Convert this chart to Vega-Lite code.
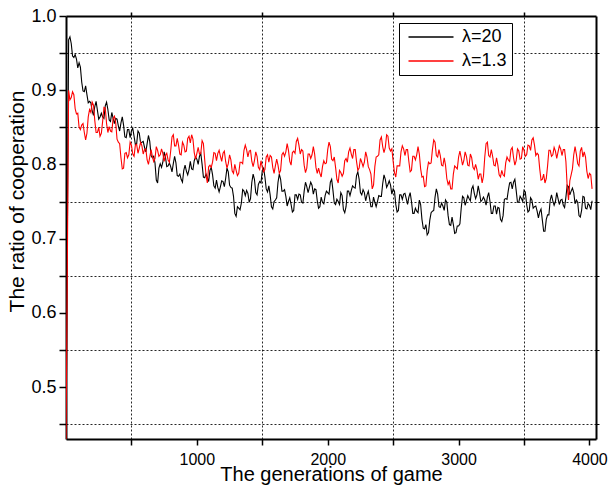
{
"$schema":"https://vega.github.io/schema/vega-lite/v6.json",
"width":530,"height":423,
"autosize":{"type":"none"},
"padding":{"left":66,"top":16,"right":13,"bottom":47},
"background":"white",
"config":{"view":{"stroke":null},"font":"Liberation Sans","axis":{"domainColor":"#000","tickColor":"#000","labelColor":"#000","titleColor":"#000","titleFontWeight":"normal"}},
"data":{"values":[
{"g":0,"k":0.420,"r":0.420},{"g":20,"k":0.968,"r":0.900},{"g":30,"k":0.972,"r":0.887},{"g":40,"k":0.963,"r":0.890},{"g":50,"k":0.946,"r":0.898},{"g":60,"k":0.944,"r":0.894},{"g":70,"k":0.948,"r":0.875},{"g":80,"k":0.942,"r":0.868},{"g":90,"k":0.930,"r":0.869},{"g":100,"k":0.937,"r":0.850},{"g":110,"k":0.931,"r":0.847},{"g":120,"k":0.911,"r":0.853},{"g":130,"k":0.899,"r":0.855},{"g":140,"k":0.898,"r":0.843},{"g":150,"k":0.906,"r":0.833},{"g":160,"k":0.894,"r":0.842},{"g":170,"k":0.883,"r":0.864},{"g":180,"k":0.885,"r":0.874},{"g":190,"k":0.883,"r":0.870},{"g":200,"k":0.872,"r":0.884},{"g":210,"k":0.866,"r":0.880},{"g":220,"k":0.878,"r":0.859},{"g":230,"k":0.885,"r":0.843},{"g":240,"k":0.873,"r":0.843},{"g":250,"k":0.861,"r":0.850},{"g":260,"k":0.864,"r":0.838},{"g":270,"k":0.869,"r":0.842},{"g":280,"k":0.864,"r":0.858},{"g":290,"k":0.862,"r":0.877},{"g":300,"k":0.879,"r":0.876},{"g":310,"k":0.884,"r":0.855},{"g":320,"k":0.874,"r":0.843},{"g":330,"k":0.860,"r":0.851},{"g":340,"k":0.858,"r":0.845},{"g":350,"k":0.870,"r":0.844},{"g":360,"k":0.862,"r":0.862},{"g":370,"k":0.855,"r":0.865},{"g":380,"k":0.862,"r":0.856},{"g":390,"k":0.861,"r":0.834},{"g":400,"k":0.852,"r":0.830},{"g":410,"k":0.845,"r":0.828},{"g":420,"k":0.856,"r":0.809},{"g":430,"k":0.864,"r":0.794},{"g":440,"k":0.853,"r":0.795},{"g":450,"k":0.837,"r":0.815},{"g":460,"k":0.836,"r":0.816},{"g":470,"k":0.847,"r":0.809},{"g":480,"k":0.847,"r":0.813},{"g":490,"k":0.836,"r":0.830},{"g":500,"k":0.845,"r":0.826},{"g":510,"k":0.849,"r":0.814},{"g":520,"k":0.838,"r":0.811},{"g":530,"k":0.827,"r":0.826},{"g":540,"k":0.828,"r":0.827},{"g":550,"k":0.845,"r":0.815},{"g":560,"k":0.842,"r":0.822},{"g":570,"k":0.829,"r":0.830},{"g":580,"k":0.830,"r":0.825},{"g":590,"k":0.831,"r":0.814},{"g":600,"k":0.823,"r":0.820},{"g":610,"k":0.817,"r":0.821},{"g":620,"k":0.828,"r":0.806},{"g":630,"k":0.839,"r":0.800},{"g":640,"k":0.831,"r":0.810},{"g":650,"k":0.812,"r":0.820},{"g":660,"k":0.809,"r":0.811},{"g":670,"k":0.811,"r":0.804},{"g":680,"k":0.802,"r":0.808},{"g":690,"k":0.779,"r":0.824},{"g":700,"k":0.775,"r":0.819},{"g":710,"k":0.795,"r":0.811},{"g":720,"k":0.801,"r":0.813},{"g":730,"k":0.796,"r":0.821},{"g":740,"k":0.803,"r":0.815},{"g":750,"k":0.817,"r":0.804},{"g":760,"k":0.810,"r":0.812},{"g":770,"k":0.797,"r":0.815},{"g":780,"k":0.798,"r":0.806},{"g":790,"k":0.802,"r":0.803},{"g":800,"k":0.797,"r":0.818},{"g":810,"k":0.790,"r":0.837},{"g":820,"k":0.801,"r":0.840},{"g":830,"k":0.811,"r":0.825},{"g":840,"k":0.802,"r":0.825},{"g":850,"k":0.785,"r":0.835},{"g":860,"k":0.784,"r":0.826},{"g":870,"k":0.787,"r":0.814},{"g":880,"k":0.780,"r":0.813},{"g":890,"k":0.776,"r":0.830},{"g":900,"k":0.792,"r":0.826},{"g":910,"k":0.799,"r":0.817},{"g":920,"k":0.791,"r":0.818},{"g":930,"k":0.786,"r":0.835},{"g":940,"k":0.793,"r":0.838},{"g":950,"k":0.804,"r":0.829},{"g":960,"k":0.794,"r":0.840},{"g":970,"k":0.793,"r":0.834},{"g":980,"k":0.805,"r":0.816},{"g":990,"k":0.810,"r":0.807},{"g":1000,"k":0.807,"r":0.815},{"g":1010,"k":0.800,"r":0.823},{"g":1020,"k":0.811,"r":0.814},{"g":1030,"k":0.815,"r":0.815},{"g":1040,"k":0.800,"r":0.832},{"g":1050,"k":0.783,"r":0.828},{"g":1060,"k":0.782,"r":0.806},{"g":1070,"k":0.787,"r":0.785},{"g":1080,"k":0.782,"r":0.775},{"g":1090,"k":0.777,"r":0.797},{"g":1100,"k":0.792,"r":0.799},{"g":1110,"k":0.796,"r":0.796},{"g":1120,"k":0.786,"r":0.803},{"g":1130,"k":0.771,"r":0.816},{"g":1140,"k":0.768,"r":0.815},{"g":1150,"k":0.779,"r":0.805},{"g":1160,"k":0.769,"r":0.815},{"g":1170,"k":0.763,"r":0.819},{"g":1180,"k":0.770,"r":0.811},{"g":1190,"k":0.778,"r":0.804},{"g":1200,"k":0.777,"r":0.815},{"g":1210,"k":0.770,"r":0.818},{"g":1220,"k":0.781,"r":0.804},{"g":1230,"k":0.795,"r":0.795},{"g":1240,"k":0.790,"r":0.801},{"g":1250,"k":0.772,"r":0.813},{"g":1260,"k":0.769,"r":0.806},{"g":1270,"k":0.768,"r":0.791},{"g":1280,"k":0.757,"r":0.788},{"g":1290,"k":0.734,"r":0.800},{"g":1300,"k":0.730,"r":0.792},{"g":1310,"k":0.743,"r":0.785},{"g":1320,"k":0.741,"r":0.788},{"g":1330,"k":0.739,"r":0.803},{"g":1340,"k":0.748,"r":0.803},{"g":1350,"k":0.766,"r":0.801},{"g":1360,"k":0.764,"r":0.819},{"g":1370,"k":0.758,"r":0.826},{"g":1380,"k":0.765,"r":0.820},{"g":1390,"k":0.761,"r":0.810},{"g":1400,"k":0.749,"r":0.818},{"g":1410,"k":0.754,"r":0.819},{"g":1420,"k":0.776,"r":0.804},{"g":1430,"k":0.787,"r":0.797},{"g":1440,"k":0.780,"r":0.805},{"g":1450,"k":0.762,"r":0.817},{"g":1460,"k":0.759,"r":0.811},{"g":1470,"k":0.773,"r":0.796},{"g":1480,"k":0.777,"r":0.793},{"g":1490,"k":0.775,"r":0.805},{"g":1500,"k":0.792,"r":0.796},{"g":1510,"k":0.795,"r":0.790},{"g":1520,"k":0.783,"r":0.793},{"g":1530,"k":0.767,"r":0.810},{"g":1540,"k":0.763,"r":0.813},{"g":1550,"k":0.771,"r":0.803},{"g":1560,"k":0.759,"r":0.812},{"g":1570,"k":0.743,"r":0.810},{"g":1580,"k":0.740,"r":0.796},{"g":1590,"k":0.750,"r":0.788},{"g":1600,"k":0.752,"r":0.798},{"g":1610,"k":0.755,"r":0.807},{"g":1620,"k":0.776,"r":0.799},{"g":1630,"k":0.787,"r":0.788},{"g":1640,"k":0.780,"r":0.792},{"g":1650,"k":0.764,"r":0.813},{"g":1660,"k":0.764,"r":0.816},{"g":1670,"k":0.766,"r":0.811},{"g":1680,"k":0.757,"r":0.817},{"g":1690,"k":0.744,"r":0.828},{"g":1700,"k":0.750,"r":0.819},{"g":1710,"k":0.755,"r":0.804},{"g":1720,"k":0.746,"r":0.799},{"g":1730,"k":0.736,"r":0.816},{"g":1740,"k":0.738,"r":0.818},{"g":1750,"k":0.759,"r":0.815},{"g":1760,"k":0.759,"r":0.831},{"g":1770,"k":0.753,"r":0.835},{"g":1780,"k":0.760,"r":0.826},{"g":1790,"k":0.759,"r":0.814},{"g":1800,"k":0.749,"r":0.820},{"g":1810,"k":0.748,"r":0.818},{"g":1820,"k":0.764,"r":0.799},{"g":1830,"k":0.776,"r":0.789},{"g":1840,"k":0.770,"r":0.795},{"g":1850,"k":0.762,"r":0.814},{"g":1860,"k":0.769,"r":0.814},{"g":1870,"k":0.776,"r":0.808},{"g":1880,"k":0.772,"r":0.813},{"g":1890,"k":0.760,"r":0.824},{"g":1900,"k":0.767,"r":0.814},{"g":1910,"k":0.766,"r":0.796},{"g":1920,"k":0.751,"r":0.788},{"g":1930,"k":0.741,"r":0.795},{"g":1940,"k":0.743,"r":0.788},{"g":1950,"k":0.756,"r":0.783},{"g":1960,"k":0.749,"r":0.797},{"g":1970,"k":0.747,"r":0.805},{"g":1980,"k":0.758,"r":0.801},{"g":1990,"k":0.764,"r":0.802},{"g":2000,"k":0.762,"r":0.820},{"g":2010,"k":0.760,"r":0.830},{"g":2020,"k":0.776,"r":0.824},{"g":2030,"k":0.780,"r":0.807},{"g":2040,"k":0.765,"r":0.805},{"g":2050,"k":0.748,"r":0.810},{"g":2060,"k":0.746,"r":0.796},{"g":2070,"k":0.753,"r":0.780},{"g":2080,"k":0.750,"r":0.775},{"g":2090,"k":0.746,"r":0.792},{"g":2100,"k":0.762,"r":0.789},{"g":2110,"k":0.758,"r":0.784},{"g":2120,"k":0.739,"r":0.788},{"g":2130,"k":0.735,"r":0.805},{"g":2140,"k":0.743,"r":0.808},{"g":2150,"k":0.764,"r":0.803},{"g":2160,"k":0.764,"r":0.817},{"g":2170,"k":0.758,"r":0.822},{"g":2180,"k":0.765,"r":0.814},{"g":2190,"k":0.771,"r":0.808},{"g":2200,"k":0.769,"r":0.820},{"g":2210,"k":0.768,"r":0.820},{"g":2220,"k":0.785,"r":0.804},{"g":2230,"k":0.790,"r":0.792},{"g":2240,"k":0.780,"r":0.795},{"g":2250,"k":0.762,"r":0.808},{"g":2260,"k":0.759,"r":0.803},{"g":2270,"k":0.766,"r":0.797},{"g":2280,"k":0.762,"r":0.803},{"g":2290,"k":0.751,"r":0.817},{"g":2300,"k":0.759,"r":0.810},{"g":2310,"k":0.764,"r":0.797},{"g":2320,"k":0.754,"r":0.793},{"g":2330,"k":0.743,"r":0.787},{"g":2340,"k":0.743,"r":0.767},{"g":2350,"k":0.756,"r":0.772},{"g":2360,"k":0.749,"r":0.797},{"g":2370,"k":0.743,"r":0.810},{"g":2380,"k":0.750,"r":0.811},{"g":2390,"k":0.758,"r":0.813},{"g":2400,"k":0.757,"r":0.833},{"g":2410,"k":0.757,"r":0.837},{"g":2420,"k":0.774,"r":0.824},{"g":2430,"k":0.786,"r":0.816},{"g":2440,"k":0.780,"r":0.823},{"g":2450,"k":0.769,"r":0.840},{"g":2460,"k":0.773,"r":0.838},{"g":2470,"k":0.778,"r":0.822},{"g":2480,"k":0.772,"r":0.818},{"g":2490,"k":0.760,"r":0.821},{"g":2500,"k":0.767,"r":0.804},{"g":2510,"k":0.764,"r":0.789},{"g":2520,"k":0.746,"r":0.783},{"g":2530,"k":0.736,"r":0.798},{"g":2540,"k":0.738,"r":0.798},{"g":2550,"k":0.759,"r":0.798},{"g":2560,"k":0.759,"r":0.817},{"g":2570,"k":0.753,"r":0.825},{"g":2580,"k":0.760,"r":0.821},{"g":2590,"k":0.761,"r":0.812},{"g":2600,"k":0.754,"r":0.820},{"g":2610,"k":0.746,"r":0.820},{"g":2620,"k":0.756,"r":0.804},{"g":2630,"k":0.762,"r":0.790},{"g":2640,"k":0.750,"r":0.792},{"g":2650,"k":0.734,"r":0.811},{"g":2660,"k":0.734,"r":0.811},{"g":2670,"k":0.741,"r":0.806},{"g":2680,"k":0.737,"r":0.813},{"g":2690,"k":0.735,"r":0.824},{"g":2700,"k":0.752,"r":0.814},{"g":2710,"k":0.746,"r":0.794},{"g":2720,"k":0.726,"r":0.783},{"g":2730,"k":0.714,"r":0.784},{"g":2740,"k":0.713,"r":0.770},{"g":2750,"k":0.719,"r":0.771},{"g":2760,"k":0.705,"r":0.792},{"g":2770,"k":0.708,"r":0.803},{"g":2780,"k":0.725,"r":0.801},{"g":2790,"k":0.735,"r":0.802},{"g":2800,"k":0.737,"r":0.820},{"g":2810,"k":0.738,"r":0.833},{"g":2820,"k":0.756,"r":0.830},{"g":2830,"k":0.767,"r":0.812},{"g":2840,"k":0.760,"r":0.810},{"g":2850,"k":0.743,"r":0.820},{"g":2860,"k":0.742,"r":0.812},{"g":2870,"k":0.748,"r":0.799},{"g":2880,"k":0.744,"r":0.798},{"g":2890,"k":0.738,"r":0.809},{"g":2900,"k":0.752,"r":0.799},{"g":2910,"k":0.749,"r":0.781},{"g":2920,"k":0.731,"r":0.773},{"g":2930,"k":0.719,"r":0.777},{"g":2940,"k":0.718,"r":0.767},{"g":2950,"k":0.729,"r":0.767},{"g":2960,"k":0.719,"r":0.787},{"g":2970,"k":0.707,"r":0.798},{"g":2980,"k":0.708,"r":0.796},{"g":2990,"k":0.717,"r":0.794},{"g":3000,"k":0.717,"r":0.810},{"g":3010,"k":0.720,"r":0.818},{"g":3020,"k":0.741,"r":0.809},{"g":3030,"k":0.757,"r":0.799},{"g":3040,"k":0.755,"r":0.805},{"g":3050,"k":0.745,"r":0.817},{"g":3060,"k":0.751,"r":0.811},{"g":3070,"k":0.758,"r":0.799},{"g":3080,"k":0.754,"r":0.798},{"g":3090,"k":0.751,"r":0.814},{"g":3100,"k":0.767,"r":0.809},{"g":3110,"k":0.771,"r":0.796},{"g":3120,"k":0.761,"r":0.793},{"g":3130,"k":0.754,"r":0.800},{"g":3140,"k":0.759,"r":0.793},{"g":3150,"k":0.771,"r":0.780},{"g":3160,"k":0.762,"r":0.787},{"g":3170,"k":0.750,"r":0.787},{"g":3180,"k":0.752,"r":0.775},{"g":3190,"k":0.756,"r":0.784},{"g":3200,"k":0.752,"r":0.810},{"g":3210,"k":0.745,"r":0.828},{"g":3220,"k":0.756,"r":0.830},{"g":3230,"k":0.762,"r":0.812},{"g":3240,"k":0.750,"r":0.810},{"g":3250,"k":0.734,"r":0.820},{"g":3260,"k":0.734,"r":0.811},{"g":3270,"k":0.744,"r":0.799},{"g":3280,"k":0.744,"r":0.798},{"g":3290,"k":0.733,"r":0.809},{"g":3300,"k":0.742,"r":0.799},{"g":3310,"k":0.741,"r":0.786},{"g":3320,"k":0.726,"r":0.783},{"g":3330,"k":0.723,"r":0.792},{"g":3340,"k":0.731,"r":0.786},{"g":3350,"k":0.753,"r":0.784},{"g":3360,"k":0.754,"r":0.802},{"g":3370,"k":0.753,"r":0.810},{"g":3380,"k":0.765,"r":0.806},{"g":3390,"k":0.775,"r":0.804},{"g":3400,"k":0.776,"r":0.820},{"g":3410,"k":0.767,"r":0.823},{"g":3420,"k":0.776,"r":0.809},{"g":3430,"k":0.780,"r":0.799},{"g":3440,"k":0.765,"r":0.805},{"g":3450,"k":0.749,"r":0.821},{"g":3460,"k":0.749,"r":0.818},{"g":3470,"k":0.757,"r":0.807},{"g":3480,"k":0.754,"r":0.808},{"g":3490,"k":0.750,"r":0.824},{"g":3500,"k":0.765,"r":0.819},{"g":3510,"k":0.763,"r":0.811},{"g":3520,"k":0.746,"r":0.813},{"g":3530,"k":0.736,"r":0.826},{"g":3540,"k":0.738,"r":0.825},{"g":3550,"k":0.755,"r":0.819},{"g":3560,"k":0.752,"r":0.833},{"g":3570,"k":0.741,"r":0.836},{"g":3580,"k":0.743,"r":0.826},{"g":3590,"k":0.744,"r":0.812},{"g":3600,"k":0.737,"r":0.815},{"g":3610,"k":0.728,"r":0.813},{"g":3620,"k":0.736,"r":0.794},{"g":3630,"k":0.740,"r":0.779},{"g":3640,"k":0.725,"r":0.780},{"g":3650,"k":0.710,"r":0.787},{"g":3660,"k":0.710,"r":0.775},{"g":3670,"k":0.726,"r":0.781},{"g":3680,"k":0.732,"r":0.798},{"g":3690,"k":0.732,"r":0.819},{"g":3700,"k":0.752,"r":0.819},{"g":3710,"k":0.759,"r":0.811},{"g":3720,"k":0.751,"r":0.813},{"g":3730,"k":0.745,"r":0.823},{"g":3740,"k":0.750,"r":0.818},{"g":3750,"k":0.762,"r":0.808},{"g":3760,"k":0.754,"r":0.817},{"g":3770,"k":0.746,"r":0.825},{"g":3780,"k":0.752,"r":0.821},{"g":3790,"k":0.753,"r":0.812},{"g":3800,"k":0.745,"r":0.820},{"g":3810,"k":0.742,"r":0.820},{"g":3820,"k":0.756,"r":0.804},{"g":3830,"k":0.772,"r":0.770},{"g":3840,"k":0.770,"r":0.752},{"g":3850,"k":0.759,"r":0.778},{"g":3860,"k":0.764,"r":0.786},{"g":3870,"k":0.768,"r":0.794},{"g":3880,"k":0.762,"r":0.813},{"g":3890,"k":0.747,"r":0.824},{"g":3900,"k":0.752,"r":0.814},{"g":3910,"k":0.749,"r":0.801},{"g":3920,"k":0.731,"r":0.798},{"g":3930,"k":0.729,"r":0.818},{"g":3940,"k":0.738,"r":0.823},{"g":3950,"k":0.757,"r":0.810},{"g":3960,"k":0.756,"r":0.817},{"g":3970,"k":0.741,"r":0.810},{"g":3980,"k":0.740,"r":0.791},{"g":3990,"k":0.747,"r":0.781},{"g":4000,"k":0.745,"r":0.788},{"g":4010,"k":0.739,"r":0.786},{"g":4020,"k":0.751,"r":0.767}
]},
"layer":[
{"mark":{"type":"line","strokeWidth":1.1,"clip":true},
 "encoding":{
  "x":{"field":"g","type":"quantitative","scale":{"domain":[0,4050],"nice":false,"zero":false},
   "axis":{"orient":"bottom","values":[500,1000,1500,2000,2500,3000,3500,4000],"format":"d","labelExpr":"datum.value%1000==0 ? datum.label : ''","grid":false,"domainWidth":2,"tickWidth":1.5,"tickSize":6,"labelFontSize":16,"labelPadding":6,"labelFlush":false,"title":"The generations of game","titleFontSize":20,"titleY":41,"titleBaseline":"alphabetic"}},
  "y":{"field":"k","type":"quantitative","scale":{"domain":[0.43,1.0],"nice":false,"zero":false},
   "axis":{"orient":"left","values":[0.45,0.5,0.55,0.6,0.65,0.7,0.75,0.8,0.85,0.9,0.95,1.0],"format":".1f","labelExpr":"round(datum.value*100)%10==0 ? datum.label : ''","grid":false,"domainWidth":2,"tickWidth":1.5,"tickSize":7,"labelFontSize":18,"labelPadding":3,"labelFlush":false,"title":"The ratio of cooperation","titleFontSize":21,"titleX":-43,"titleY":185,"titleBaseline":"alphabetic","titleAngle":270}},
  "color":{"datum":"A","type":"nominal","scale":{"domain":["A","B"],"range":["#000000","#ff0000"]},
   "legend":{"orient":"none","legendX":333,"legendY":7,"title":null,"labelExpr":"datum.value=='A' ? 'λ=20' : 'λ=1.3'","strokeColor":"#000","fillColor":"#fff","padding":5,"symbolType":"M-5,0H5","symbolSize":81,"symbolOffset":18,"labelOffset":22,"labelFontSize":18,"labelColor":"#000","rowPadding":6}}
 }},
{"mark":{"type":"line","strokeWidth":1.1,"clip":true},
 "encoding":{
  "x":{"field":"g","type":"quantitative","scale":{"domain":[0,4050],"nice":false,"zero":false},
   "axis":{"orient":"top","values":[500,1500,2500,3500],"labels":false,"title":null,"domainWidth":2,"tickWidth":1.5,"tickSize":4,"grid":true,"gridColor":"#000","gridDash":[2,2],"gridWidth":1,"gridOpacity":0.85}},
  "y":{"field":"r","type":"quantitative","scale":{"domain":[0.43,1.0],"nice":false,"zero":false},
   "axis":{"orient":"right","values":[0.45,0.55,0.65,0.75,0.85,0.95],"labels":false,"title":null,"domainWidth":2,"tickWidth":1,"tickSize":3,"grid":true,"gridColor":"#000","gridDash":[2,2],"gridWidth":1,"gridOpacity":0.85}},
  "color":{"datum":"B","type":"nominal"}
 }}
],
"resolve":{"scale":{"x":"independent","y":"independent"}}
}
